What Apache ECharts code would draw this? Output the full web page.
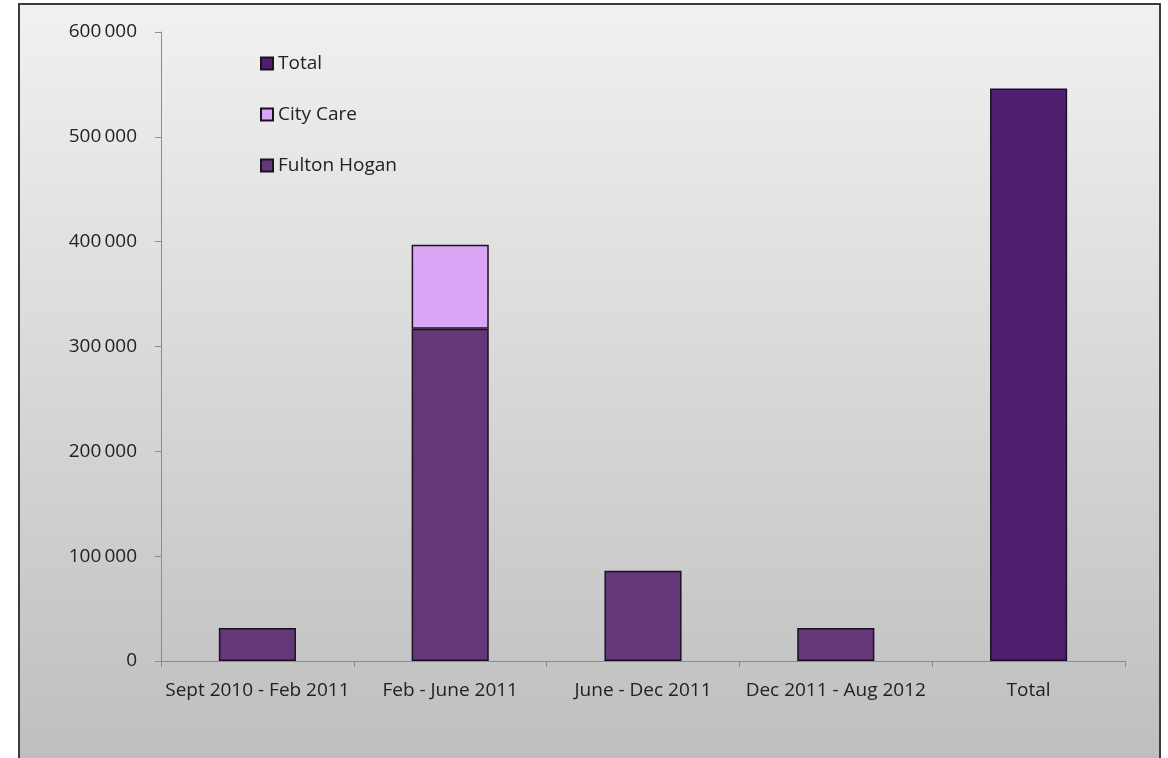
<!DOCTYPE html>
<html>
<head>
<meta charset="utf-8">
<script src="https://cdn.jsdelivr.net/npm/echarts@6/dist/echarts.min.js"></script>
<style>
  html, body { margin: 0; padding: 0; background: #ffffff; }
  #chart { width: 1168px; height: 758px; }
</style>
</head>
<body>
<div id="chart"></div>
<script>
var categories = ['Sept 2010 - Feb 2011', 'Feb - June 2011', 'June - Dec 2011', 'Dec 2011 - Aug 2012', 'Total'];
var fultonHogan = [31500, 317000, 86000, 31500, '-'];
var cityCare = ['-', 80000, '-', '-', '-'];
var total = ['-', '-', '-', '-', 546000];

var labelFont = 'Open Sans';

function fmtThousands(v) {
    return String(v).replace(/\B(?=(\d{3})+(?!\d))/g, '\u2009');
}

var chart = echarts.init(document.getElementById('chart'));

var option = {
    backgroundColor: '#ffffff',
    animation: false,
    graphic: [
        {
            type: 'rect',
            z: -10,
            silent: true,
            shape: { x: 19, y: 4, width: 1141, height: 780 },
            style: {
                fill: new echarts.graphic.LinearGradient(0, 0, 0, 1, [
                    { offset: 0, color: '#f1f1f1' },
                    { offset: 1, color: '#bdbdbd' }
                ]),
                stroke: '#3c3c3c',
                lineWidth: 2
            }
        }
    ],
    legend: {
        orient: 'vertical',
        left: 255,
        top: 49,
        itemWidth: 12,
        itemHeight: 12,
        itemGap: 32,
        icon: 'rect',
        data: ['Total', 'City Care', 'Fulton Hogan'],
        textStyle: { fontFamily: labelFont, fontSize: 19, lineHeight: 19, color: '#222' }
    },
    grid: {
        left: 161,
        right: 43,
        top: 32,
        bottom: 97,
        containLabel: false
    },
    xAxis: {
        type: 'category',
        data: categories,
        axisLine: { lineStyle: { color: '#8c8c8c', width: 1 } },
        axisTick: { show: true, length: 6, lineStyle: { color: '#8c8c8c' } },
        axisLabel: { fontFamily: labelFont, fontSize: 19, color: '#222', margin: 20, interval: 0 },
        splitLine: { show: false }
    },
    yAxis: {
        type: 'value',
        min: 0,
        max: 600000,
        interval: 100000,
        axisLine: { show: true, lineStyle: { color: '#8c8c8c', width: 1 } },
        axisTick: { show: true, length: 6, lineStyle: { color: '#8c8c8c' } },
        axisLabel: {
            fontFamily: labelFont, fontSize: 19, color: '#222', margin: 24,
            formatter: fmtThousands
        },
        splitLine: { show: false }
    },
    series: [
        {
            name: 'Fulton Hogan',
            type: 'bar',
            stack: 'a',
            barWidth: '40%',
            data: fultonHogan,
            itemStyle: { color: '#633778', borderColor: '#1e1024', borderWidth: 1.5 }
        },
        {
            name: 'City Care',
            type: 'bar',
            stack: 'a',
            barWidth: '40%',
            data: cityCare,
            itemStyle: { color: '#dba5f6', borderColor: '#1e1024', borderWidth: 1.5 }
        },
        {
            name: 'Total',
            type: 'bar',
            stack: 'a',
            barWidth: '40%',
            data: total,
            itemStyle: { color: '#4e1f6e', borderColor: '#1e1024', borderWidth: 1.5 }
        }
    ]
};

chart.setOption(option);
</script>
</body>
</html>
